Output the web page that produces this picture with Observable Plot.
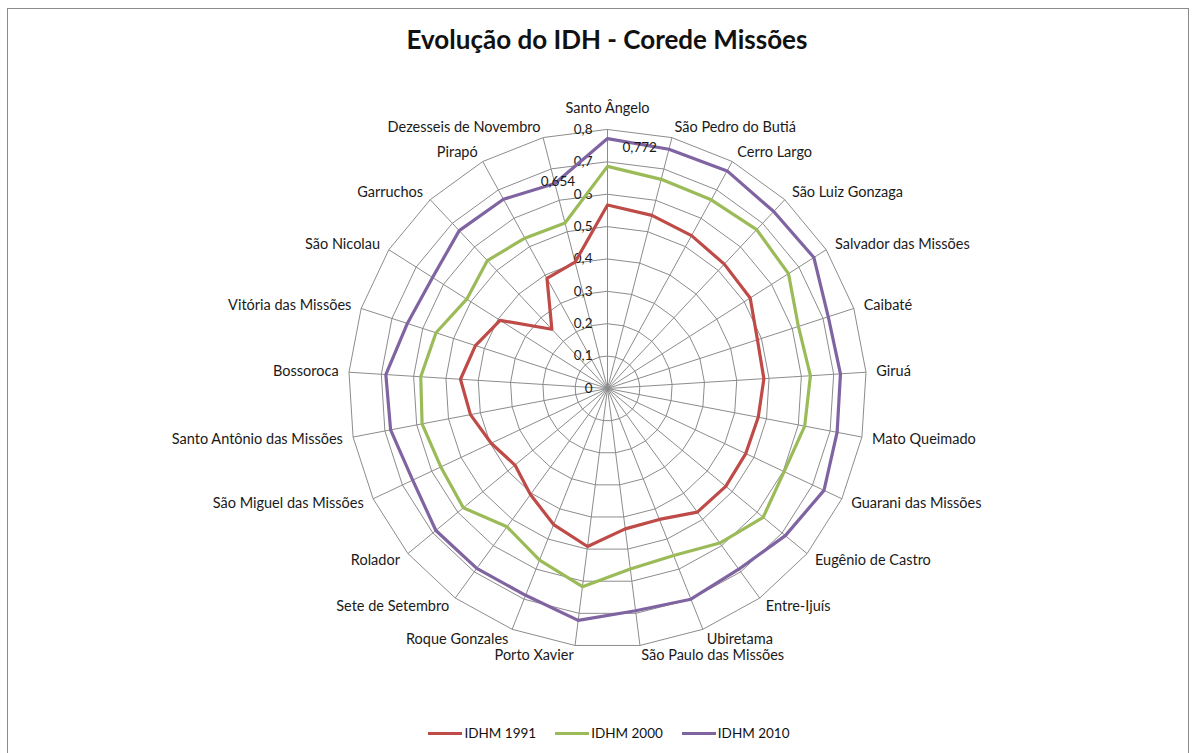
<!DOCTYPE html>
<html>
<head>
<meta charset="utf-8">
<script src="https://cdn.jsdelivr.net/npm/d3@7"></script>
<script src="https://cdn.jsdelivr.net/npm/@observablehq/plot@0.6"></script>
<style>
  html, body { margin: 0; padding: 0; background: #fff; }
  #page { position: relative; width: 1197px; height: 753px; overflow: hidden; font-family: Lato, "Open Sans", sans-serif; }
  #frame { position: absolute; left: 7px; top: 8px; width: 1182px; height: 800px; border: 1px solid #8c8c8c; box-sizing: border-box; }
  #title { position: absolute; left: 0; top: 23px; width: 1214px; text-align: center; font-size: 26px; font-weight: 700; line-height: 32px; color: #111; }
  #chart { position: absolute; left: 0; top: 68px; }
  #legend { position: absolute; left: 0; top: 722px; width: 1218px; display: flex; justify-content: center; gap: 19px; font-size: 13.5px; color: #111; line-height: 22px; }
  .item { display: flex; align-items: center; }
  .sw { width: 34px; height: 3px; margin-right: 2px; }
</style>
</head>
<body>
<div id="page">
  <div id="frame"></div>
  <div id="title"></div>
  <div id="chart"></div>
  <div id="legend"></div>
</div>
<script>
const titleText = "Evolução do IDH - Corede Missões";

const categories = [
  "Santo Ângelo", "São Pedro do Butiá", "Cerro Largo", "São Luiz Gonzaga",
  "Salvador das Missões", "Caibaté", "Giruá", "Mato Queimado",
  "Guarani das Missões", "Eugênio de Castro", "Entre-Ijuís", "Ubiretama",
  "São Paulo das Missões", "Porto Xavier", "Roque Gonzales", "Sete de Setembro",
  "Rolador", "São Miguel das Missões", "Santo Antônio das Missões", "Bossoroca",
  "Vitória das Missões", "São Nicolau", "Garruchos", "Pirapó",
  "Dezesseis de Novembro"
];

const idhm1991 = [0.567, 0.552, 0.539, 0.527, 0.522, 0.487, 0.484, 0.474, 0.472, 0.474,
  0.472, 0.435, 0.437, 0.492, 0.452, 0.405, 0.371, 0.397, 0.431, 0.455,
  0.429, 0.393, 0.251, 0.388, 0.403];
const idhm2000 = [0.686, 0.667, 0.665, 0.673, 0.662, 0.620, 0.628, 0.620, 0.603, 0.624,
  0.590, 0.555, 0.562, 0.617, 0.570, 0.528, 0.578, 0.569, 0.583, 0.578,
  0.557, 0.515, 0.542, 0.530, 0.528];
const idhm2010 = [0.772, 0.763, 0.767, 0.750, 0.755, 0.717, 0.721, 0.722, 0.739, 0.713,
  0.690, 0.700, 0.692, 0.722, 0.687, 0.687, 0.688, 0.665, 0.682, 0.686,
  0.650, 0.640, 0.669, 0.667, 0.654];

const seriesNames = ["IDHM 1991", "IDHM 2000", "IDHM 2010"];
const seriesColors = ["#BE4B48", "#9BBB59", "#8064A2"];
const ringValues = [0.1, 0.2, 0.3, 0.4, 0.5, 0.6, 0.7, 0.8];
const tickValues = [0, 0.1, 0.2, 0.3, 0.4, 0.5, 0.6, 0.7, 0.8];
const tickLabels = ["0", "0,1", "0,2", "0,3", "0,4", "0,5", "0,6", "0,7", "0,8"];
const labelledCategories = ["Santo Ângelo", "Dezesseis de Novembro"];

const n = categories.length;
const maxV = 0.8;
const angleOf = i => (i * 2 * Math.PI) / n;
const px = (v, i) => v * Math.sin(angleOf(i));
const py = (v, i) => v * Math.cos(angleOf(i));

const seriesValues = [idhm1991, idhm2000, idhm2010];
const rows = [];
seriesNames.forEach((s, k) => seriesValues[k].forEach((v, i) => rows.push({series: s, i, cat: categories[i], value: v})));

const gridRows = [];
ringValues.forEach(r => categories.forEach((c, i) => gridRows.push({ring: r, i})));

const spokes = categories.map((c, i) => ({i, cat: c}));
const fmt = v => d3.format(".3f")(v).replace(".", ",");

const labelR = 0.832;
const textStyle = {fontFamily: "Lato, 'Open Sans', sans-serif", fontSize: 14.5, fill: "#1a1a1a"};
const smallStyle = {fontFamily: "Lato, 'Open Sans', sans-serif", fontSize: 13.5, fill: "#1a1a1a"};

document.getElementById("title").textContent = titleText;

const chart = Plot.plot({
  width: 1197,
  height: 640,
  margin: 0,
  x: {domain: [-maxV, maxV], range: [348, 866], axis: null},
  y: {domain: [-maxV, maxV], range: [579, 61], axis: null},
  color: {domain: seriesNames, range: seriesColors},
  style: {background: "transparent", overflow: "visible"},
  marks: [
    Plot.link(spokes, {x1: 0, y1: 0, x2: d => px(maxV, d.i), y2: d => py(maxV, d.i), stroke: "#8c8c8c", strokeWidth: 1}),
    Plot.line(gridRows, {x: d => px(d.ring, d.i), y: d => py(d.ring, d.i), z: "ring", curve: "linear-closed", stroke: "#8c8c8c", strokeWidth: 1}),
    Plot.text(tickValues, {x: 0, y: d => d, text: (d, j) => tickLabels[j], textAnchor: "end", dx: -15, ...smallStyle}),
    Plot.line(rows, {x: d => px(d.value, d.i), y: d => py(d.value, d.i), z: "series", stroke: "series", curve: "linear-closed", strokeWidth: 3.2, strokeLinejoin: "round"}),
    Plot.text(spokes.filter(d => d.i === 0), {x: d => px(labelR, d.i), y: d => py(labelR, d.i), text: "cat", textAnchor: "middle", dy: -11, ...textStyle}),
    Plot.text(spokes.filter(d => d.i > 0 && angleOf(d.i) < Math.PI), {x: d => px(labelR, d.i), y: d => py(labelR, d.i), text: "cat", textAnchor: "start", ...textStyle}),
    Plot.text(spokes.filter(d => angleOf(d.i) > Math.PI), {x: d => px(labelR, d.i), y: d => py(labelR, d.i), text: "cat", textAnchor: "end", ...textStyle}),
    Plot.text(rows.filter(d => d.series === "IDHM 2010" && d.cat === labelledCategories[0]), {x: d => px(d.value, d.i), y: d => py(d.value, d.i), text: d => fmt(d.value), textAnchor: "start", dx: 15, dy: 9, ...smallStyle}),
    Plot.text(rows.filter(d => d.series === "IDHM 2010" && d.cat === labelledCategories[1]), {x: d => px(d.value, d.i), y: d => py(d.value, d.i), text: d => fmt(d.value), textAnchor: "middle", dx: 3, dy: -2, ...smallStyle})
  ]
});
document.getElementById("chart").appendChild(chart);

const legend = document.getElementById("legend");
seriesNames.forEach((s, k) => {
  const item = document.createElement("div");
  item.className = "item";
  const sw = document.createElement("div");
  sw.className = "sw";
  sw.style.background = seriesColors[k];
  const t = document.createElement("span");
  t.textContent = s;
  item.appendChild(sw);
  item.appendChild(t);
  legend.appendChild(item);
});
</script>
</body>
</html>
